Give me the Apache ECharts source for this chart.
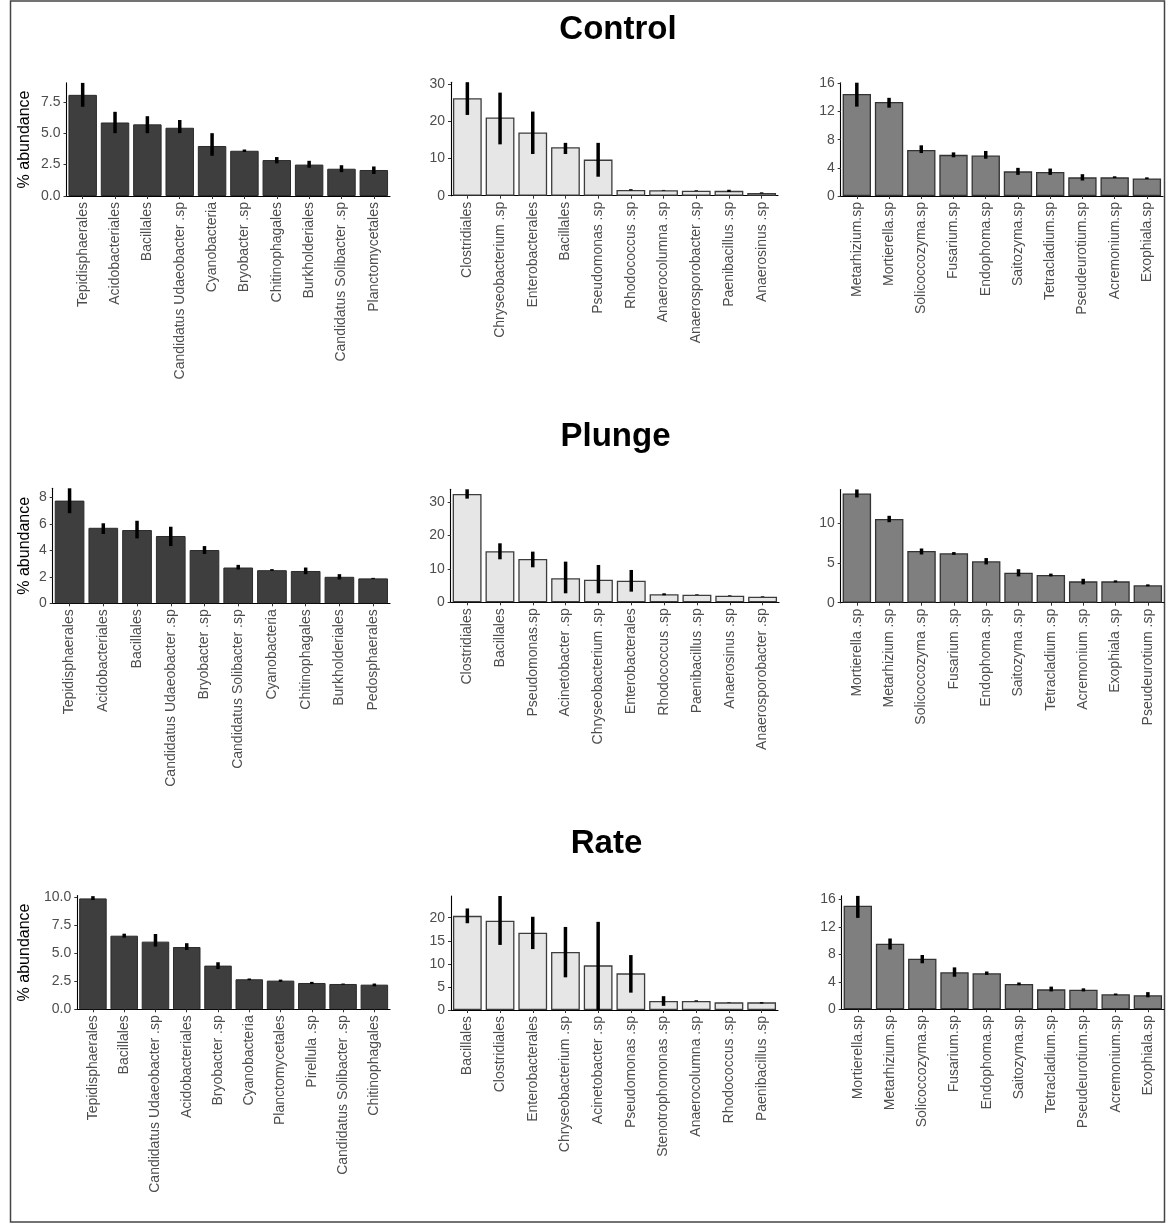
<!DOCTYPE html>
<html>
<head>
<meta charset="utf-8">
<style>
html,body{margin:0;padding:0;background:#fff;}
#chart{width:1166px;height:1224px;}
</style>
<script src="https://cdn.jsdelivr.net/npm/echarts@6/dist/echarts.min.js"></script>
</head>
<body>
<div id="chart"></div>
<script>
// ---------- DATA ----------
const groupTitles = ["Control", "Plunge", "Rate"];

// Control
const ctrlBacCats = ["Tepidisphaerales","Acidobacteriales","Bacillales","Candidatus Udaeobacter .sp","Cyanobacteria","Bryobacter .sp","Chitinophagales","Burkholderiales","Candidatus Solibacter .sp","Planctomycetales"];
const ctrlBacVals = [8.05,5.85,5.7,5.43,3.98,3.6,2.86,2.5,2.17,2.07];
const ctrlBacLow  = [7.1,5.0,5.0,5.0,3.2,3.5,2.6,2.25,1.9,1.75];
const ctrlBacHigh = [9.0,6.7,6.35,6.05,5.0,3.7,3.1,2.8,2.45,2.35];

const ctrlMidCats = ["Clostridiales","Chryseobacterium .sp","Enterobacterales","Bacillales","Pseudomonas .sp","Rhodococcus .sp","Anaerocolumna .sp","Anaerosporobacter .sp","Paenibacillus .sp","Anaerosinus .sp"];
const ctrlMidVals = [26.2,21.0,17.0,13.0,9.7,1.55,1.45,1.35,1.3,0.75];
const ctrlMidLow  = [21.7,13.8,11.2,11.2,5.1,1.4,1.35,1.25,1.0,0.6];
const ctrlMidHigh = [30.5,27.7,22.6,14.2,14.2,1.75,1.55,1.45,1.6,0.9];

const ctrlFunCats = ["Metarhizium.sp","Mortierella.sp","Solicoccozyma.sp","Fusarium.sp","Endophoma.sp","Saitozyma.sp","Tetracladium.sp","Pseudeurotium.sp","Acremonium.sp","Exophiala.sp"];
const ctrlFunVals = [14.5,13.35,6.55,5.85,5.75,3.5,3.4,2.65,2.65,2.5];
const ctrlFunLow  = [12.7,12.55,6.1,5.5,5.3,3.0,3.0,2.2,2.55,2.4];
const ctrlFunHigh = [16.1,13.95,7.2,6.2,6.4,4.0,3.9,3.1,2.8,2.65];

// Plunge
const plBacCats = ["Tepidisphaerales","Acidobacteriales","Bacillales","Candidatus Udaeobacter .sp","Bryobacter .sp","Candidatus Solibacter .sp","Cyanobacteria","Chitinophagales","Burkholderiales","Pedosphaerales"];
const plBacVals = [7.75,5.7,5.53,5.08,4.02,2.7,2.5,2.44,2.0,1.88];
const plBacLow  = [6.8,5.23,4.9,4.32,3.72,2.55,2.45,2.2,1.8,1.84];
const plBacHigh = [8.68,6.04,6.23,5.78,4.32,2.9,2.58,2.7,2.2,1.92];

const plMidCats = ["Clostridiales","Bacillales","Pseudomonas.sp","Acinetobacter .sp","Chryseobacterium .sp","Enterobacterales","Rhodococcus .sp","Paenibacillus .sp","Anaerosinus .sp","Anaerosporobacter .sp"];
const plMidVals = [32.5,15.3,13.0,7.2,6.8,6.5,2.4,2.3,2.0,1.7];
const plMidLow  = [31.1,12.9,10.5,2.7,2.7,3.2,2.1,2.2,1.9,1.6];
const plMidHigh = [33.9,17.7,15.2,12.2,11.2,9.7,2.7,2.4,2.1,1.8];

const plFunCats = ["Mortierella .sp","Metarhizium .sp","Solicoccozyma .sp","Fusarium .sp","Endophoma .sp","Saitozyma .sp","Tetracladium .sp","Acremonium .sp","Exophiala .sp","Pseudeurotium .sp"];
const plFunVals = [13.7,10.5,6.5,6.2,5.2,3.77,3.48,2.68,2.68,2.18];
const plFunLow  = [13.2,10.1,6.05,6.0,4.8,3.3,3.3,2.3,2.55,2.05];
const plFunHigh = [14.2,10.9,6.8,6.35,5.6,4.2,3.65,3.0,2.8,2.3];

// Rate
const rtBacCats = ["Tepidisphaerales","Bacillales","Candidatus Udaeobacter .sp","Acidobacteriales","Bryobacter .sp","Cyanobacteria","Planctomycetales","Pirellula .sp","Candidatus Solibacter .sp","Chitinophagales"];
const rtBacVals = [9.9,6.57,6.04,5.56,3.9,2.68,2.56,2.35,2.26,2.2];
const rtBacLow  = [9.75,6.4,5.6,5.3,3.6,2.6,2.45,2.25,2.2,2.05];
const rtBacHigh = [10.1,6.75,6.72,5.9,4.2,2.75,2.65,2.45,2.3,2.3];

const rtMidCats = ["Bacillales","Clostridiales","Enterobacterales","Chryseobacterium .sp","Acinetobacter .sp","Pseudomonas .sp","Stenotrophomonas .sp","Anaerocolumna .sp","Rhodococcus .sp","Paenibacillus .sp"];
const rtMidVals = [20.4,19.35,16.75,12.56,9.67,7.94,1.95,1.95,1.66,1.66];
const rtMidLow  = [18.8,14.1,13.2,7.08,0,3.76,0.9,1.85,1.6,1.4];
const rtMidHigh = [22.0,24.7,20.2,18.0,19.1,11.9,3.0,2.1,1.72,1.7];

const rtFunCats = ["Mortierella.sp","Metarhizium.sp","Solicoccozyma.sp","Fusarium.sp","Endophoma.sp","Saitozyma.sp","Tetracladium.sp","Pseudeurotium.sp","Acremonium.sp","Exophiala.sp"];
const rtFunVals = [15.07,9.55,7.36,5.38,5.24,3.68,2.9,2.85,2.18,2.04];
const rtFunLow  = [13.3,8.7,6.7,4.74,5.0,3.5,2.6,2.6,2.05,1.75];
const rtFunHigh = [16.5,10.3,7.9,6.1,5.5,3.9,3.3,3.05,2.3,2.5];

// y-axis tick labels and axis max per panel
const ticksCtrlBac = [0,2.5,5,7.5];
const ticksCtrlMid = [0,10,20,30];
const ticksCtrlFun = [0,4,8,12,16];
const ticksPlBac = [0,2,4,6,8];
const ticksPlMid = [0,10,20,30];
const ticksPlFun = [0,5,10];
const ticksRtBac = [0,2.5,5,7.5,10];
const ticksRtMid = [0,5,10,15,20];
const ticksRtFun = [0,4,8,12,16];
const axisMax = [9.0, 30.5, 16.1, 8.68, 33.9, 14.2, 10.15, 24.7, 16.5];

// ---------- LAYOUT / STYLE ----------
const panels = [
  {cats:ctrlBacCats, vals:ctrlBacVals, lo:ctrlBacLow, hi:ctrlBacHigh, ticks:ticksCtrlBac, dec:1, kind:0, L:66.5, R:390,  T:82.9,  B:196},
  {cats:ctrlMidCats, vals:ctrlMidVals, lo:ctrlMidLow, hi:ctrlMidHigh, ticks:ticksCtrlMid, dec:0, kind:1, L:451,  R:778,  T:82.2,  B:195.7},
  {cats:ctrlFunCats, vals:ctrlFunVals, lo:ctrlFunLow, hi:ctrlFunHigh, ticks:ticksCtrlFun, dec:0, kind:2, L:840.7,R:1163, T:82.7,  B:196},
  {cats:plBacCats, vals:plBacVals, lo:plBacLow, hi:plBacHigh, ticks:ticksPlBac, dec:0, kind:0, L:52.7, R:390,  T:488.3, B:603.3},
  {cats:plMidCats, vals:plMidVals, lo:plMidLow, hi:plMidHigh, ticks:ticksPlMid, dec:0, kind:1, L:450.7,R:779,  T:489.3, B:602.3},
  {cats:plFunCats, vals:plFunVals, lo:plFunLow, hi:plFunHigh, ticks:ticksPlFun, dec:0, kind:2, L:840.7,R:1164, T:489.5, B:602.7},
  {cats:rtBacCats, vals:rtBacVals, lo:rtBacLow, hi:rtBacHigh, ticks:ticksRtBac, dec:1, kind:0, L:77.3, R:390,  T:895.6, B:1009.3},
  {cats:rtMidCats, vals:rtMidVals, lo:rtMidLow, hi:rtMidHigh, ticks:ticksRtMid, dec:0, kind:1, L:451,  R:778,  T:896,   B:1010},
  {cats:rtFunCats, vals:rtFunVals, lo:rtFunLow, hi:rtFunHigh, ticks:ticksRtFun, dec:0, kind:2, L:841.7,R:1164, T:895.9, B:1009.3}
];
const barStyles = [
  {color:'#3e3e3e', borderColor:'#2b2b2b', borderWidth:1},
  {color:'#e6e6e6', borderColor:'#3c3c3c', borderWidth:1.3},
  {color:'#7f7f7f', borderColor:'#333333', borderWidth:1.3}
];
const titlePos = [{x:618, y:30}, {x:615.5, y:436.5}, {x:606.5, y:843.5}];
const FONT = '"Liberation Sans", Arial, sans-serif';
const TXT = '#4d4d4d';

const grids = [], xAxes = [], yAxes = [], series = [];
panels.forEach((p, i) => {
  grids.push({left:p.L, top:p.T, width:p.R - p.L, height:p.B - p.T, outerBoundsMode:'none', containLabel:false});
  xAxes.push({
    type:'category', gridIndex:i, data:p.cats,
    axisLine:{show:true, lineStyle:{color:'#000', width:1.1}},
    axisTick:{show:true, alignWithLabel:true, length:3, lineStyle:{color:'#333'}},
    axisLabel:{rotate:90, interval:0, fontSize:14, color:TXT, fontFamily:FONT, margin:6},
    splitLine:{show:false}
  });
  const isLeft = (i % 3 === 0);
  yAxes.push({
    type:'value', gridIndex:i, min:0, max:axisMax[i],
    name: isLeft ? '% abundance' : '',
    nameLocation:'middle', nameGap: p.L - 25, nameRotate:90,
    nameTextStyle:{fontSize:16, color:'#000', fontFamily:FONT, verticalAlign:'middle', align:'center'},
    axisLine:{show:true, lineStyle:{color:'#000', width:1.1}},
    axisTick:{show:true, length:3, lineStyle:{color:'#333'}, customValues:p.ticks},
    axisLabel:{fontSize:14, color:TXT, fontFamily:FONT, margin:6, customValues:p.ticks,
      formatter: (v) => Number(v).toFixed(p.dec)},
    splitLine:{show:false}
  });
  series.push({
    type:'bar', xAxisIndex:i, yAxisIndex:i, data:p.vals,
    barCategoryGap:'12%', itemStyle:barStyles[p.kind], silent:true, z:2
  });
  series.push({
    type:'custom', xAxisIndex:i, yAxisIndex:i, z:5, silent:true,
    data:p.cats.map((c, k) => [k, p.lo[k], p.hi[k]]),
    encode:{x:0, y:[1,2]},
    renderItem:(params, api) => {
      const a = api.coord([api.value(0), api.value(1)]);
      const b = api.coord([api.value(0), api.value(2)]);
      return {type:'line', shape:{x1:a[0], y1:a[1], x2:b[0], y2:b[1]},
        style:{stroke:'#000', lineWidth:3.5}};
    }
  });
});

const graphics = [
  {type:'rect', shape:{x:10.5, y:1, width:1154, height:1221}, style:{fill:'none', stroke:'#444', lineWidth:1.5}, silent:true}
];
groupTitles.forEach((t, i) => {
  graphics.push({type:'text', x:titlePos[i].x, y:titlePos[i].y,
    style:{text:t, fontSize:33, fontWeight:'bold', fontFamily:FONT, fill:'#000', align:'center', verticalAlign:'middle'}});
});

const chart = echarts.init(document.getElementById('chart'), null, {renderer:'canvas'});
chart.setOption({
  backgroundColor:'#fff',
  animation:false,
  grid:grids, xAxis:xAxes, yAxis:yAxes, series:series,
  graphic:graphics
});
</script>
</body>
</html>
